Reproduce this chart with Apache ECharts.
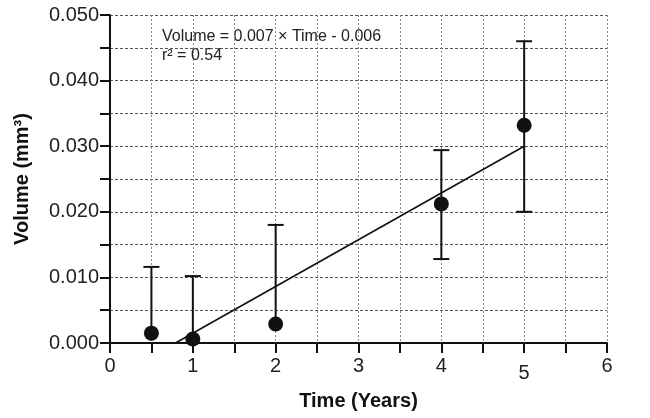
<!DOCTYPE html>
<html>
<head>
<meta charset="utf-8">
<script src="https://cdn.jsdelivr.net/npm/echarts@6/dist/echarts.min.js"></script>
<style>
  html, body { margin: 0; padding: 0; background: #fff; }
  #chart { width: 650px; height: 418px; }
</style>
</head>
<body>
<div id="chart"></div>
<script>
// Measured volume over time (mean with error bars)
const times = [0.5, 1, 2, 4, 5];
const volumes = [0.0015, 0.0006, 0.0029, 0.0212, 0.0332];
const errLow = [0.0015, 0.0006, 0.0029, 0.0128, 0.0200];
const errHigh = [0.0116, 0.0102, 0.0180, 0.0294, 0.0460];

// Linear fit drawn between its two ends
const fitTimes = [0.79, 5];
const fitVolumes = [0.0, 0.0300];

const xTicks = [0, 1, 2, 3, 4, 5, 6];
const yTicks = [0.00, 0.01, 0.02, 0.03, 0.04, 0.05];

const FONT = '"Liberation Sans", Arial, sans-serif';

const chart = echarts.init(document.getElementById('chart'), null, { renderer: 'canvas' });

const pointData = times.map((t, i) => [t, volumes[i]]);
const errData = times.map((t, i) => [t, errLow[i], errHigh[i]]);
const fitData = fitTimes.map((t, i) => [t, fitVolumes[i]]);

function isTick(list, v) {
  return list.some(t => Math.abs(t - v) < 1e-9);
}

chart.setOption({
  animation: false,
  backgroundColor: '#fff',
  grid: { left: 110, right: 43, top: 15, bottom: 75, containLabel: false },
  xAxis: {
    type: 'value',
    min: 0, max: 6, interval: 0.5,
    name: 'Time (Years)',
    nameLocation: 'middle',
    nameGap: 48,
    nameTextStyle: { fontFamily: FONT, fontSize: 20, fontWeight: 'bold', color: '#111' },
    axisLine: { show: true, onZero: false, lineStyle: { color: '#111', width: 2 } },
    axisTick: { show: true, inside: false, length: 10, lineStyle: { color: '#111', width: 2 } },
    axisLabel: {
      fontFamily: FONT, fontSize: 20, color: '#222', margin: 13,
      formatter: v => {
        if (!isTick(xTicks, v)) return '';
        return v === 5 ? '{low|5}' : String(v);
      },
      rich: { low: { fontFamily: FONT, fontSize: 20, color: '#222', padding: [7, 0, 0, 0] } }
    },
    splitLine: { show: true, lineStyle: { color: '#8a8a8a', type: [2, 2], width: 1 } }
  },
  yAxis: {
    type: 'value',
    min: 0, max: 0.05, interval: 0.005,
    name: 'Volume (mm³)',
    nameLocation: 'middle',
    nameRotate: 90,
    nameGap: 78,
    nameTextStyle: { fontFamily: FONT, fontSize: 20, fontWeight: 'bold', color: '#111' },
    axisLine: { show: true, lineStyle: { color: '#111', width: 2 } },
    axisTick: { show: true, inside: false, length: 10, lineStyle: { color: '#111', width: 2 } },
    axisLabel: {
      fontFamily: FONT, fontSize: 20, color: '#222', margin: 11,
      formatter: v => isTick(yTicks, v) ? v.toFixed(3) : ''
    },
    splitLine: { show: true, lineStyle: { color: '#555', type: [3, 2], width: 1 } }
  },
  graphic: [
    {
      type: 'text', left: 162, top: 29, silent: true,
      style: { text: 'Volume = 0.007 × Time - 0.006', font: '16px ' + FONT, fill: '#222' }
    },
    {
      type: 'text', left: 162, top: 48, silent: true,
      style: { text: 'r² = 0.54', font: '16px ' + FONT, fill: '#222' }
    }
  ],
  series: [
    {
      type: 'line',
      data: fitData,
      symbol: 'none',
      lineStyle: { color: '#111', width: 1.6 },
      z: 3
    },
    {
      type: 'custom',
      data: errData,
      z: 4,
      renderItem: (params, api) => {
        const x = api.value(0);
        const lo = api.coord([x, api.value(1)]);
        const hi = api.coord([x, api.value(2)]);
        const cap = 8;
        const style = { stroke: '#111', lineWidth: 2 };
        const children = [
          { type: 'line', shape: { x1: lo[0], y1: lo[1], x2: hi[0], y2: hi[1] }, style },
          { type: 'line', shape: { x1: hi[0] - cap, y1: hi[1], x2: hi[0] + cap, y2: hi[1] }, style }
        ];
        if (api.value(1) < volumes[params.dataIndex] - 1e-9) {
          children.push({ type: 'line', shape: { x1: lo[0] - cap, y1: lo[1], x2: lo[0] + cap, y2: lo[1] }, style });
        }
        return { type: 'group', children };
      }
    },
    {
      type: 'scatter',
      data: pointData,
      symbol: 'circle',
      symbolSize: 15,
      itemStyle: { color: '#111', opacity: 1 },
      z: 5
    }
  ]
});
</script>
</body>
</html>
